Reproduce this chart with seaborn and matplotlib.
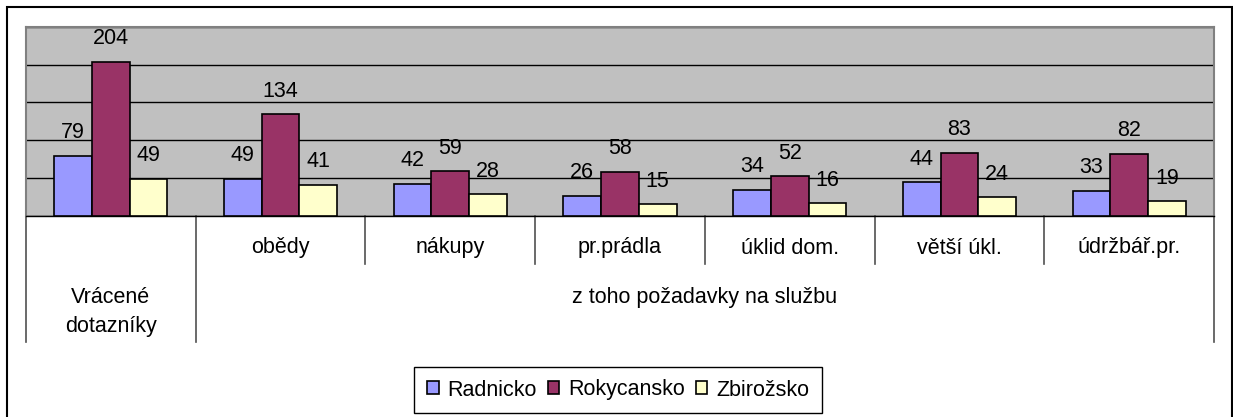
import pandas as pd
import matplotlib.pyplot as plt
import matplotlib.transforms as mtransforms
import matplotlib.patches as mpatches
import seaborn as sns

# data
categories = ['Vrácené dotazníky', 'obědy', 'nákupy', 'pr.prádla',
              'úklid dom.', 'větší úkl.', 'údržbář.pr.']
radnicko = [79, 49, 42, 26, 34, 44, 33]
rokycansko = [204, 134, 59, 58, 52, 83, 82]
zbirozsko = [49, 41, 28, 15, 16, 24, 19]
series = ['Radnicko', 'Rokycansko', 'Zbirožsko']
group_label = 'z toho požadavky na službu'
top_label = 'Vrácené\ndotazníky'

colors = ['#9999FF', '#993366', '#FFFFCC']

rows = []
for name, vals in zip(series, [radnicko, rokycansko, zbirozsko]):
    for c, v in zip(categories, vals):
        rows.append({'kategorie': c, 'pocet': v, 'oblast': name})
df = pd.DataFrame(rows)

W, H = 1233, 417
fig = plt.figure(figsize=(W / 100, H / 100), dpi=100)
plt.rcParams['font.family'] = ['Liberation Sans', 'DejaVu Sans']
fs = 15.5

# plot area in pixels: x 26..1214, y 27..215.5
ax = fig.add_axes([26 / W, 1 - 215.5 / H, (1214 - 26) / W, (215.5 - 27) / H])
ax.set_facecolor('#C0C0C0')

sns.barplot(data=df, x='kategorie', y='pocet', hue='oblast', palette=colors,
            width=2 / 3, saturation=1, edgecolor='black', linewidth=1.2,
            errorbar=None, ax=ax, zorder=3)

ax.set_xlim(-0.5, len(categories) - 0.5)
ax.set_ylim(0, 250)
ax.set_yticks(range(0, 251, 50))
ax.yaxis.grid(True, color='black', linewidth=1)
ax.set_axisbelow(True)
ax.tick_params(left=False, bottom=False, labelleft=False, labelbottom=False)
ax.set_xlabel('')
ax.set_ylabel('')
for s in ['top', 'left', 'right']:
    ax.spines[s].set_color('#808080')
    ax.spines[s].set_linewidth(1.5)
ax.spines['bottom'].set_color('black')
ax.spines['bottom'].set_linewidth(1)

for cont in ax.containers:
    ax.bar_label(cont, padding=9, fontsize=fs)

# category table under the plot
tr = mtransforms.blended_transform_factory(ax.transData, fig.transFigure)
y_top = 1 - 215.5 / H
y_mid = 1 - 264 / H
y_bot = 1 - 342 / H
n = len(categories)
for i in range(n + 1):
    xb = i - 0.5
    y_end = y_bot if i in (0, 1, n) else y_mid
    ax.plot([xb, xb], [y_top, y_end], transform=tr, color='#505050',
            lw=1.2, clip_on=False)
for i, c in enumerate(categories[1:], start=1):
    ax.text(i, 1 - 248 / H, c, transform=tr, ha='center', va='center', fontsize=fs)
ax.text(0, 1 - 312 / H, top_label, transform=tr, ha='center', va='center',
        fontsize=fs, linespacing=1.45)
ax.text((1 + n - 1) / 2, 1 - 297 / H, group_label, transform=tr,
        ha='center', va='center', fontsize=fs)

sns.move_legend(ax, loc='center', bbox_to_anchor=(618 / W, 1 - 390 / H),
                bbox_transform=fig.transFigure, ncol=3, title=None,
                frameon=True, fancybox=False, edgecolor='black', framealpha=1,
                fontsize=fs, handlelength=0.55, handleheight=0.55,
                handletextpad=0.4, columnspacing=0.5, borderpad=0.6,
                borderaxespad=0)
ax.get_legend().get_frame().set_linewidth(1)

# outer chart frame
fig.add_artist(mpatches.Rectangle((7 / W, -0.05), (1232 - 7) / W, 1 - 7 / H + 0.05,
                                  transform=fig.transFigure, fill=False,
                                  edgecolor='black', lw=1.5))

fig.savefig('out.png', dpi=100)
